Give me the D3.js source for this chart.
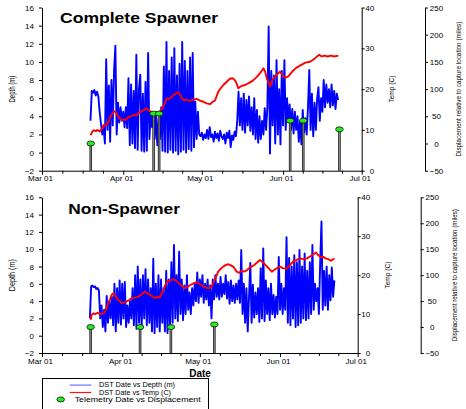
<!DOCTYPE html>
<html>
<head>
<meta charset="utf-8">
<script src="https://cdn.jsdelivr.net/npm/d3@7"></script>
<style>
  body { margin: 0; background: #fff; }
  svg { display: block; }
  text { font-family: "Liberation Sans", Arial, sans-serif; }
</style>
</head>
<body>
<svg id="chart" width="466" height="409"></svg>
<script>
// ---- data (days after Mar 01) ----
var monthDates = ['2005-03-01', '2005-04-01', '2005-05-01', '2005-06-01', '2005-07-01'];
var monthLabels = ['Mar 01', 'Apr 01', 'May 01', 'Jun 01', 'Jul 01'];
var depthTicks = [-2, 0, 2, 4, 6, 8, 10, 12, 14, 16];
var tempTicks = [0, 10, 20, 30, 40];
var dispTicks = [-50, 0, 50, 100, 150, 200, 250];

// DST depth logged every half day, first reading on day 18.5
var depthStart = 18.5, depthStep = 0.5;
var depthTop = [
  3.5, 6.8, 6.6, 6.9, 6.3, 6.7, 6.2, 4.5, 3.2, 2.0,
  2.8, 1.0, 10.3, 2.5, 7.4, 1.2, 8.0, 3.0, 9.0, 11.8,
  2.0, 5.5, 3.3, 5.0, 3.5, 4.5, 2.8, 5.0, 2.7, 8.2,
  0.8, 7.5, 1.0, 6.8, 0.5, 10.8, 0.3, 7.0, 8.6, 0.2,
  6.5, 0.1, 7.8, 0.2, 11.0, 1.5, 4.5, 2.8, 4.2, 1.5,
  4.0, 0.8, 3.8, 1.5, 5.0, 0.2, 9.5, 0.1, 12.2, 0.0,
  9.0, 0.3, 10.5, 0.0, 11.5, 0.2, 8.5, -0.2, 9.8, 0.1,
  12.2, 0.3, 10.1, 0.0, 9.0, 0.4, 10.5, 0.2, 11.0, 0.6,
  5.6, 1.5, 4.5, 2.0, 1.8, 2.2, 1.4, 2.0, 1.6, 2.5,
  1.5, 2.8, 1.7, 2.0, 1.2, 2.3, 1.6, 2.1, 1.3, 2.4,
  1.8, 1.5, 2.0, 1.0, 2.2, 1.6, 2.4, 0.6, 1.9, 1.4,
  2.3, 1.8, 3.5, 6.7, 3.0, 6.0, 2.5, 6.5, 2.2, 5.8,
  3.0, 6.2, 2.4, 5.0, 2.0, 6.0, 1.5, 4.7, 1.1, 4.0,
  1.5, 3.5, 2.0, 4.9, 2.5, 5.0, 13.9, -0.1, 9.0, 3.0,
  8.5, 1.0, 10.2, 2.0, 7.0, 0.9, 9.0, 3.0, 10.2, 2.5,
  6.0, 3.5, 5.3, 2.5, 4.8, 2.1, 4.5, 2.5, 4.0, 1.2,
  3.5, 0.9, 4.7, 2.2, 3.8, 2.0, 5.0, 9.1, 2.5, 6.5,
  1.8, 5.5, 2.5, 6.0, 7.2, 3.5, 6.0, 4.5, 8.0, 5.0,
  7.5, 5.5, 7.0, 5.0, 7.5, 5.2, 6.8, 4.8, 6.5, 5.8
];
var depthBottom = [
  2.0, 5.7, 5.8, 5.6, 5.7, 5.4, 5.5, 5.2, 2.0, 3.5,
  1.0, 3.0, 0.5, 4.6, 1.5, 4.0, 2.0, 4.5, 1.2, 6.0,
  0.5, 5.5, 1.5, 6.4, 1.3, 6.0, 2.0, 6.2, 1.0, 3.5,
  1.5, 4.0, 2.0, 5.5, 1.2, 7.0, 0.8, 8.0, 1.5, 6.5,
  0.8, 7.0, 2.0, 7.7, 1.2, 6.5, 1.5, 5.5, 0.5, 8.9,
  0.3, 6.0, 1.0, 7.0, 0.5, 6.5, 1.5, 5.5, 0.5, 7.5,
  0.3, 6.5, 1.0, 8.5, 1.5, 10.5, 2.0, 7.0, 1.7, 9.7,
  2.5, 6.5, 1.8, 5.8, 2.5, 7.0, 3.0, 5.0, 2.5, 5.5,
  3.5, 6.0, 4.0, 7.3, 3.8, 6.5, 4.5, 7.0, 3.8, 6.0,
  4.2, 6.5, 3.5, 5.8, 2.0, 6.5, 4.2, 7.0, 4.5, 6.0,
  4.2, 6.8, 4.5, 6.0, 4.8, 7.0, 4.3, 6.2, 3.7, 6.4,
  4.0, 5.8, 3.8, 6.0, 4.2, 6.4, 3.8, 9.9, 2.5, 6.0,
  1.5, 5.5, 0.5, 4.5, 8.4, 1.5, 5.9, 2.1, 5.0, 2.5,
  5.5, 1.6, 7.8, 2.0, 10.1, 1.7, 6.4, 2.5, 5.5, 1.8,
  6.0, 2.5, 4.7, 2.1, 4.5, 2.5, 9.1, 3.0, 6.0, 2.5,
  5.5, 3.0, 11.4, 1.5, 9.0, 1.2, 8.0, 2.0, 9.3, 1.0,
  8.5, 1.2, 9.9, 1.5, 8.0, 2.0, 9.5, 1.8, 7.5, 2.0,
  8.5, 2.5, 10.5, 3.0, 6.0, 4.0, 5.5, 2.5, 8.4, 13.2,
  3.0, 7.5, 3.5, 8.0, 3.0, 7.0, 4.1, 7.9, 4.5, 6.4
];

// DST temperature, [day, degC]
var tempTop = [
  [18.6, 8.7], [19.2, 9.6], [19.8, 9.9], [20.5, 9.7], [21.2, 10.0], [22, 9.6], [22.8, 10.2],
  [23.5, 11.2], [24.3, 11.0], [25.3, 11.9], [26, 13.0], [26.8, 14.0], [27.6, 14.6], [28.3, 14.2],
  [29, 13.4], [29.7, 12.8], [30.4, 12.4], [31.2, 12.6], [32, 12.5], [33, 13.2], [34, 13.3],
  [35, 13.7], [36, 13.5], [37, 14.2], [38, 14.6], [39, 14.9], [40, 15.3], [41, 14.6],
  [42, 14.4], [42.5, 14.1], [43.5, 14.3], [44.4, 14.1], [45.3, 14.8], [46.3, 15.7], [47, 16.8],
  [47.6, 17.7], [48.5, 17.6], [49.5, 18.1], [50.3, 18.6], [51.4, 19.0], [52, 19.3], [52.8, 18.5],
  [53.9, 17.3], [55, 17.4], [56.5, 17.1], [57.8, 17.4], [59, 17.6], [60.3, 17.2], [61.6, 16.9],
  [62.8, 16.5], [64.1, 16.3], [65, 16.8], [66, 17.2], [67.3, 19.4], [68.2, 20.2], [69.2, 21.0],
  [70.5, 21.8], [71.8, 22.6], [73, 22.6], [74, 21.8], [74.9, 20.2], [76.2, 20.8], [77.5, 21.0],
  [78.7, 21.4], [80, 21.9], [80.7, 22.2], [82, 23.0], [83.2, 23.9], [84.5, 25.1], [85.2, 24.2],
  [85.8, 22.6], [86.5, 21.6], [87, 20.6], [87.6, 21.8], [88.3, 22.6], [89.2, 23.3], [90.2, 23.9],
  [90.8, 24.3], [92.1, 23.1], [93, 22.8], [94, 23.1], [95.5, 24.3], [97, 25.2], [99.1, 26.0],
  [100.5, 26.5], [102.3, 26.7], [103.5, 27.2], [104.8, 27.9], [105.8, 28.4], [106.8, 28.0],
  [107.8, 28.2], [109, 28.0], [110.3, 28.2], [111.5, 28.0], [113.1, 28.2]
];
var tempBottom = [
  [18.8, 8.5], [19.2, 9.8], [19.8, 10.2], [20.5, 10.0], [21.5, 10.3], [22.5, 10.0], [23.7, 10.2],
  [24.5, 10.8], [25.6, 12.8], [26.3, 13.8], [26.9, 14.9], [27.5, 15.3], [28.3, 14.6], [29.5, 13.6],
  [30.8, 12.8], [32, 13.0], [33.5, 13.5], [34.7, 14.1], [36, 14.2], [37.3, 14.5], [38.5, 15.0],
  [39.8, 15.8], [41, 15.2], [42.3, 14.7], [43.7, 14.1], [44.6, 14.4], [45.6, 14.3], [46.9, 16.2],
  [47.6, 17.4], [48.2, 18.3], [49.5, 18.6], [50.7, 18.9], [51.4, 18.8], [52.4, 18.2], [53.3, 17.7],
  [54.3, 17.1], [55.3, 16.6], [56.2, 17.0], [57.2, 17.4], [58.5, 17.9], [59.8, 18.2], [60.8, 17.8],
  [61.7, 17.4], [62.7, 17.0], [63.6, 16.7], [64.9, 16.6], [65.6, 17.2], [66.2, 17.9], [67.2, 19.5],
  [68.1, 20.9], [69, 21.6], [70, 22.2], [71, 22.6], [72, 22.8], [73, 22.5], [73.9, 22.2],
  [74.6, 21.5], [75.2, 20.9], [76.2, 20.6], [77.1, 21.1], [78.1, 20.9], [79.1, 21.2], [80, 21.8],
  [81, 22.2], [82, 22.6], [83, 23.2], [84.2, 23.9], [85, 23.5], [85.8, 23.0], [86.7, 22.4],
  [87.8, 21.6], [88.8, 20.9], [89.8, 21.4], [90.8, 21.8], [92, 22.2], [93, 21.8], [94.5, 21.6],
  [95.8, 22.6], [97.1, 23.5], [98.4, 23.9], [99.7, 24.3], [101, 24.1], [102.4, 24.3], [103.6, 24.8],
  [104.8, 25.3], [105.9, 25.8], [106.8, 25.1], [107.8, 24.6], [108.7, 24.7], [109.6, 24.3],
  [110.6, 24.1], [111.7, 23.7], [113, 24.3]
];

// telemetry fixes: day, displacement (miles)
var telemTopDays = [18.6, 42.6, 44.7, 94.7, 99.7, 113.5];
var telemTopDisp = [0, 55, 55, 42, 42, 26];
var telemBottomDays = [18.8, 37.9, 49.8, 66.6];
var telemBottomDisp = [0, 0, 0, 5];

// ---- drawing ----
var svg = d3.select('#chart');
var t0 = Date.UTC(2005, 2, 1);
var toDate = function(day) { return new Date(t0 + day * 864e5); };
var months = monthDates.map(function(s) { return new Date(s + 'T00:00:00Z'); });
var minorTicks = [];
months.slice(0, -1).forEach(function(m, i) {
  var span = months[i + 1] - m;
  [1, 2, 3].forEach(function(k) { minorTicks.push(new Date(+m + span * k / 4)); });
});

var panels = [
  { title: 'Complete Spawner', titleX: 60, titleY: 22.7, titleLen: 158,
    left: 42, right: 361.7, top: 7.5, bottom: 170.7, dispX: 425,
    depthLabel: [15, 27], tempLabel: [394, 27], dispLabel: [460.5, 135],
    depth: depthTop, temp: tempTop, tDays: telemTopDays, tDisp: telemTopDisp },
  { title: 'Non-Spawner', titleX: 68.3, titleY: 214, titleLen: 111.7,
    left: 42, right: 357.7, top: 197.3, bottom: 353, dispX: 420.7,
    depthLabel: [15, 32], tempLabel: [389.5, 27], dispLabel: [456.5, 132],
    depth: depthBottom, temp: tempBottom, tDays: telemBottomDays, tDisp: telemBottomDisp }
];

function styleAxis(g) {
  g.attr('font-size', 8).attr('font-family', '"Liberation Sans", Arial, sans-serif');
  g.selectAll('path, line').attr('stroke', '#000');
}

function vlabel(x, cy, txt, len, size) {
  svg.append('text')
    .attr('transform', 'translate(' + x + ',' + cy + ') rotate(-90)')
    .attr('text-anchor', 'middle')
    .attr('font-size', size)
    .attr('textLength', len)
    .attr('lengthAdjust', 'spacingAndGlyphs')
    .text(txt);
}

panels.forEach(function(p) {
  var x = d3.scaleUtc().domain([months[0], months[months.length - 1]]).range([p.left, p.right]);
  var yDepth = d3.scaleLinear().domain([-2, 16]).range([p.bottom, p.top]);
  var yTemp = d3.scaleLinear().domain([0, 40]).range([p.bottom, p.top]);
  var yDisp = d3.scaleLinear().domain([-50, 250]).range([p.bottom, p.top]);
  var cy = (p.top + p.bottom) / 2;

  // depth trace
  var depthLine = d3.line()
    .x(function(d, i) { return x(toDate(depthStart + i * depthStep)); })
    .y(function(d) { return yDepth(d); });
  svg.append('path').datum(p.depth)
    .attr('d', depthLine)
    .attr('fill', 'none').attr('stroke', '#0000ff')
    .attr('stroke-width', 1.9).attr('stroke-linejoin', 'round');

  // temperature trace
  var tempLine = d3.line()
    .x(function(d) { return x(toDate(d[0])); })
    .y(function(d) { return yTemp(d[1]); });
  svg.append('path').datum(p.temp)
    .attr('d', tempLine)
    .attr('fill', 'none').attr('stroke', '#ff0000')
    .attr('stroke-width', 1.9).attr('stroke-linejoin', 'round');

  // telemetry stems + dots
  var telem = p.tDays.map(function(d, i) { return { day: d, disp: p.tDisp[i] }; });
  var stems = svg.append('g');
  stems.selectAll('line.outer').data(telem).enter().append('line')
    .attr('x1', function(d) { return x(toDate(d.day)); })
    .attr('x2', function(d) { return x(toDate(d.day)); })
    .attr('y1', yDisp(-50)).attr('y2', function(d) { return yDisp(d.disp); })
    .attr('stroke', '#222').attr('stroke-width', 2.6);
  stems.selectAll('line.inner').data(telem).enter().append('line')
    .attr('x1', function(d) { return x(toDate(d.day)); })
    .attr('x2', function(d) { return x(toDate(d.day)); })
    .attr('y1', yDisp(-50)).attr('y2', function(d) { return yDisp(d.disp); })
    .attr('stroke', '#999').attr('stroke-width', 0.9);
  svg.append('g').selectAll('ellipse').data(telem).enter().append('ellipse')
    .attr('cx', function(d) { return x(toDate(d.day)); })
    .attr('cy', function(d) { return yDisp(d.disp); })
    .attr('rx', 3.8).attr('ry', 2.5)
    .attr('fill', '#22ee22').attr('stroke', '#111').attr('stroke-width', 0.8);

  // x axis
  svg.append('g').attr('transform', 'translate(0,' + p.bottom + ')')
    .call(d3.axisBottom(x).tickValues(months)
      .tickFormat(function(d, i) { return monthLabels[i]; })
      .tickSize(4).tickSizeOuter(0).tickPadding(1))
    .call(styleAxis)
    .call(function(g) { g.selectAll('text').attr('x', -2); });
  svg.append('g').attr('transform', 'translate(0,' + p.bottom + ')')
    .call(d3.axisBottom(x).tickValues(minorTicks).tickFormat('').tickSize(3).tickSizeOuter(0))
    .call(styleAxis)
    .call(function(g) { g.select('.domain').remove(); });

  // depth axis
  svg.append('g').attr('transform', 'translate(' + p.left + ',0)')
    .call(d3.axisLeft(yDepth).tickValues(depthTicks).tickSize(3).tickSizeOuter(0).tickPadding(5))
    .call(styleAxis);

  // temp axis
  svg.append('g').attr('transform', 'translate(' + p.right + ',0)')
    .call(d3.axisRight(yTemp).tickValues(tempTicks).tickSize(3).tickSizeOuter(0))
    .call(styleAxis)
    .call(function(g) { g.selectAll('text').attr('text-anchor', 'end').attr('x', 12.5); });

  // displacement axis
  svg.append('g').attr('transform', 'translate(' + p.dispX + ',0)')
    .call(d3.axisRight(yDisp).tickValues(dispTicks).tickSize(3).tickSizeOuter(0))
    .call(styleAxis)
    .call(function(g) { g.selectAll('text').attr('text-anchor', 'middle').attr('x', 11.5); });

  vlabel(p.depthLabel[0], cy, 'Depth (m)', p.depthLabel[1], 9);
  vlabel(p.tempLabel[0], cy, 'Temp (C)', p.tempLabel[1], 8);
  vlabel(p.dispLabel[0], cy, 'Displacement relative to capture location (miles)', p.dispLabel[1], 7.2);

  svg.append('text')
    .attr('x', p.titleX).attr('y', p.titleY)
    .attr('font-size', 14.5).attr('font-weight', 'bold')
    .attr('textLength', p.titleLen).attr('lengthAdjust', 'spacingAndGlyphs')
    .text(p.title);
});

// x title
svg.append('text').attr('x', 200).attr('y', 377)
  .attr('text-anchor', 'middle').attr('font-size', 10).attr('font-weight', 'bold')
  .text('Date');

// legend
var legend = svg.append('g');
legend.append('rect').attr('x', 42.5).attr('y', 378.5).attr('width', 166).attr('height', 40)
  .attr('fill', '#fff').attr('stroke', '#000').attr('stroke-width', 1);
legend.append('line').attr('x1', 69.7).attr('x2', 91.3).attr('y1', 385.1).attr('y2', 385.1)
  .attr('stroke', '#6f6fff').attr('stroke-width', 1.2);
legend.append('line').attr('x1', 69.7).attr('x2', 91.3).attr('y1', 392.5).attr('y2', 392.5)
  .attr('stroke', '#ff1010').attr('stroke-width', 1.2);
legend.append('ellipse').attr('cx', 60.7).attr('cy', 399.4).attr('rx', 3.8).attr('ry', 2.5)
  .attr('fill', '#22ee22').attr('stroke', '#111').attr('stroke-width', 0.8);
[['DST Date vs Depth (m)', 99, 387.4, 76],
 ['DST Date vs Temp (C)', 99, 394.8, 72],
 ['Telemetry Date vs Displacement', 74.7, 402.2, 126]].forEach(function(r) {
  legend.append('text').attr('x', r[1]).attr('y', r[2]).attr('font-size', 6.4)
    .attr('textLength', r[3]).attr('lengthAdjust', 'spacingAndGlyphs').text(r[0]);
});
</script>
</body>
</html>
